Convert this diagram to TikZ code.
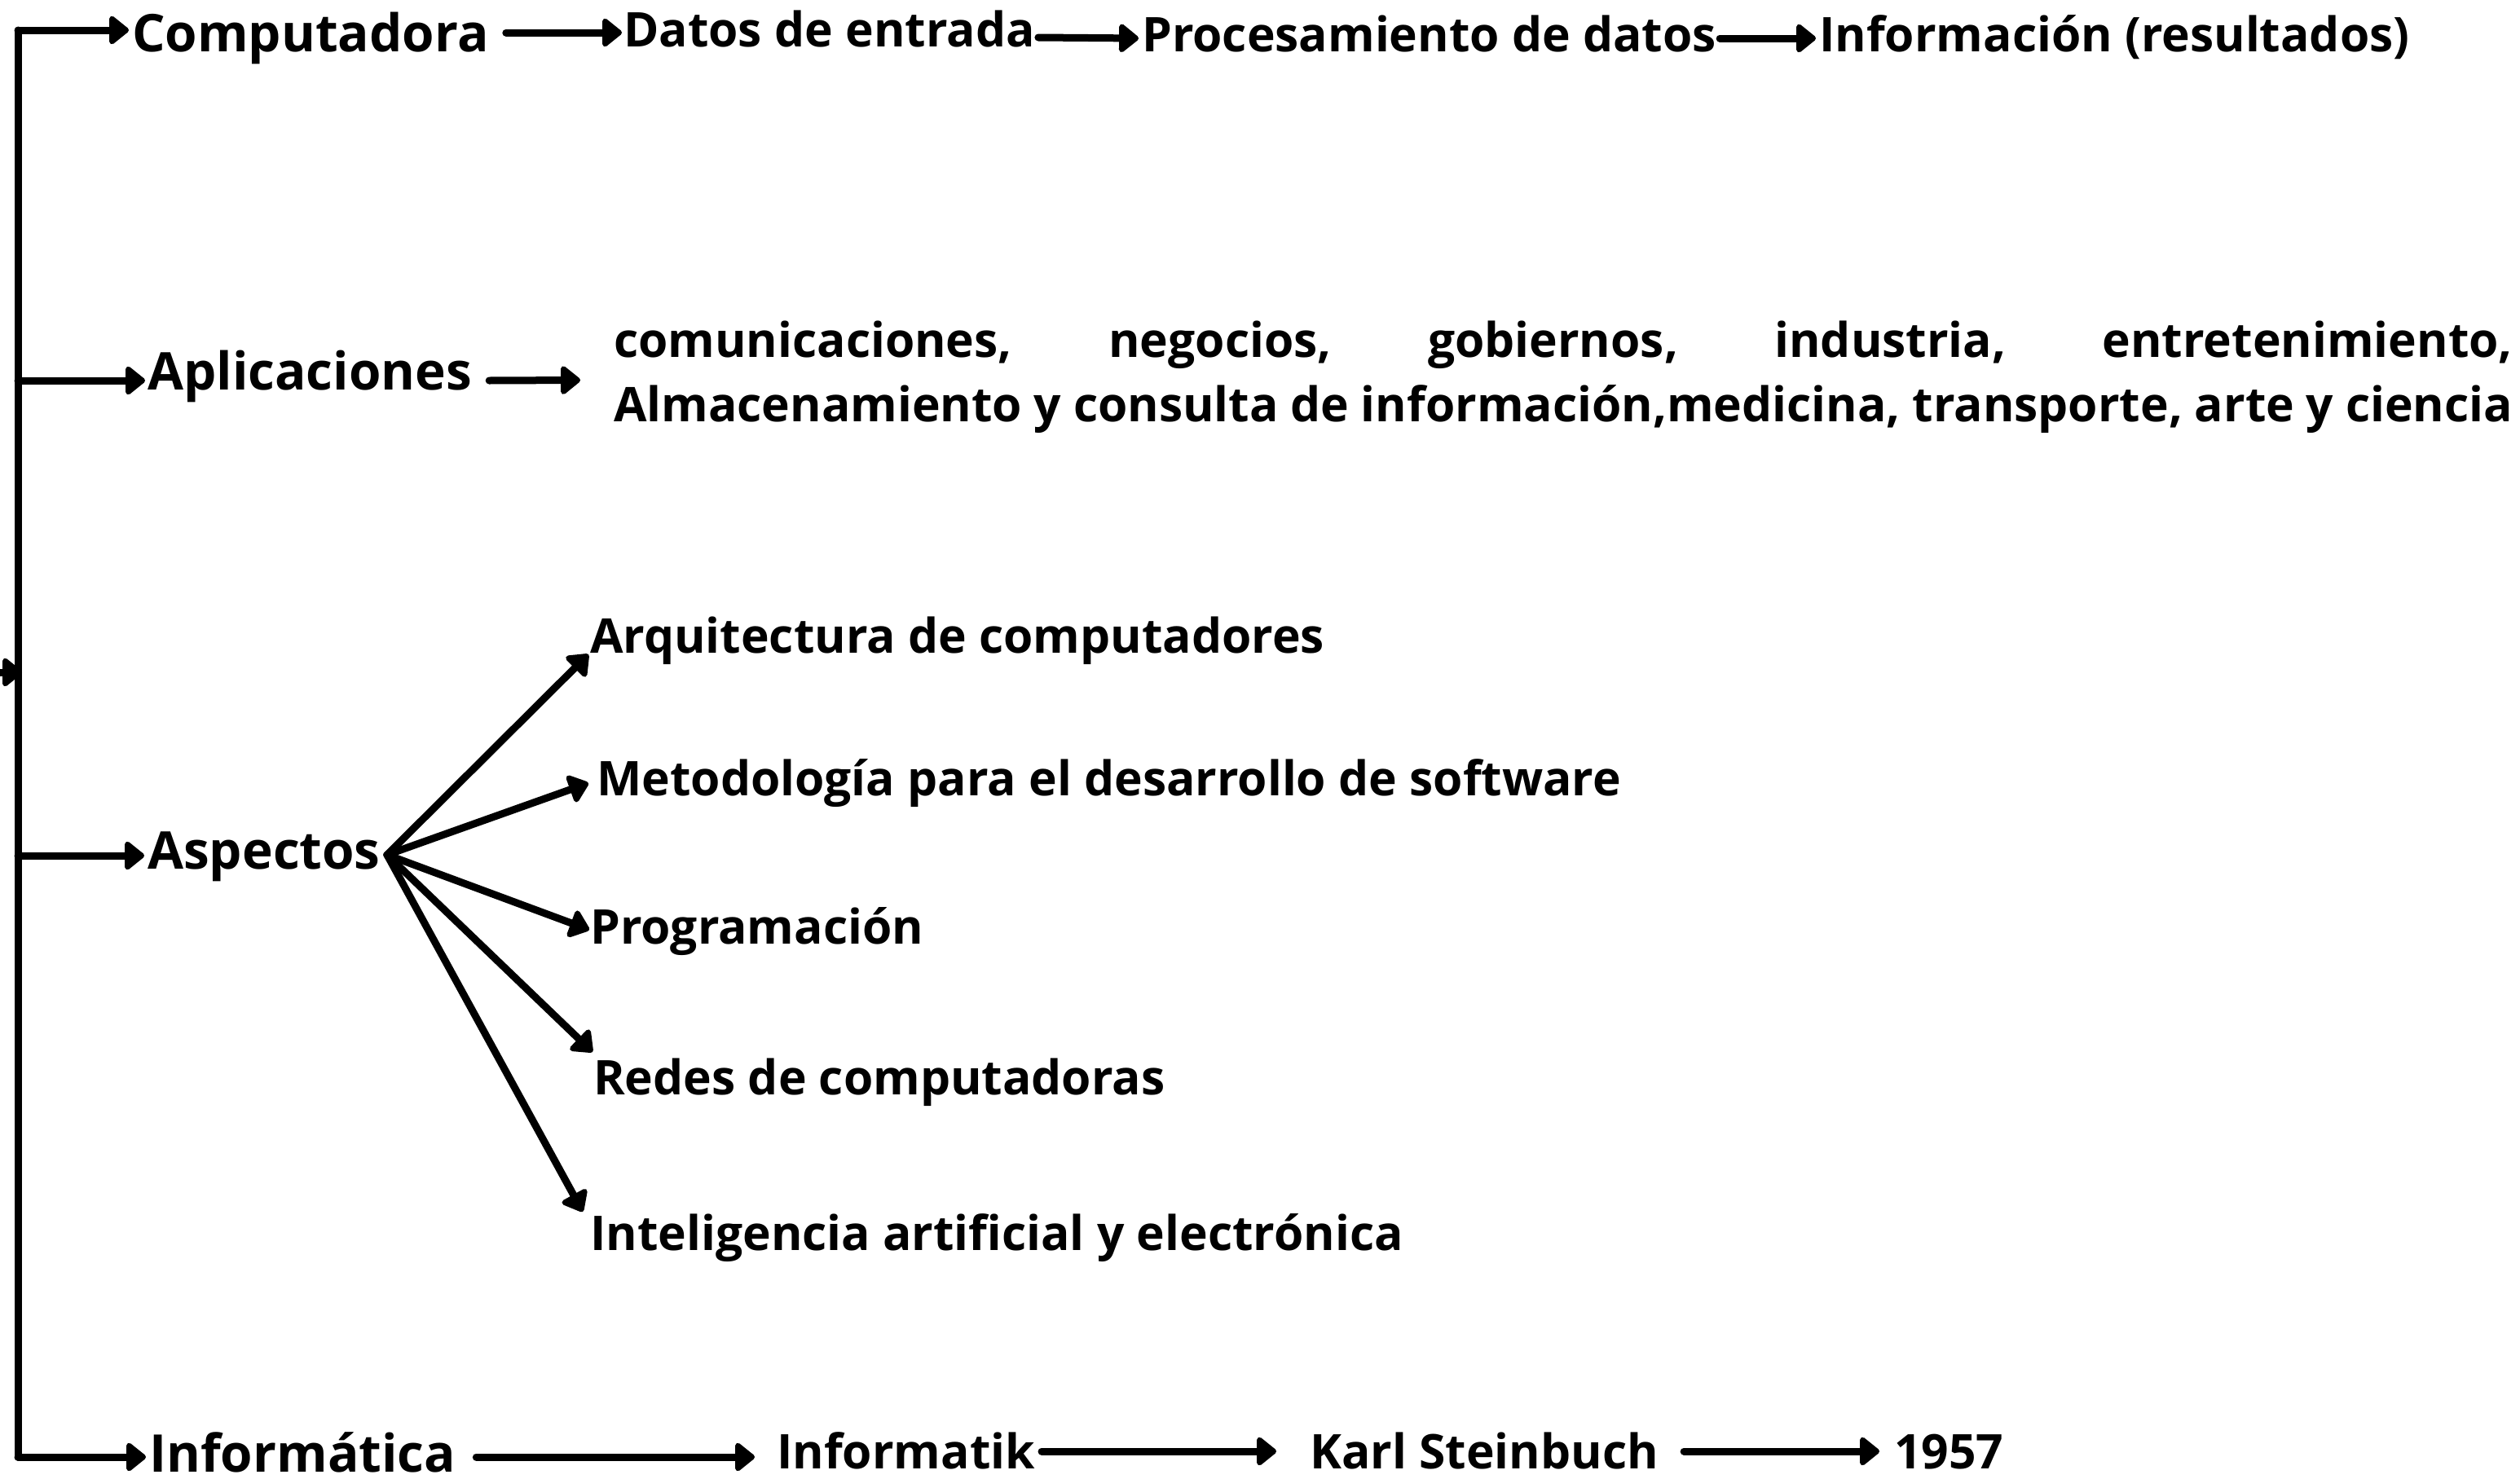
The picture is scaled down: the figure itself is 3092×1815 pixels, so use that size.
\documentclass[tikz,border=0pt]{standalone}
\usepackage{fontspec}
\setmainfont{Open Sans}
\usetikzlibrary{arrows.meta,calc}
\tikzset{
  lbl/.style={anchor=base west, inner sep=0pt, font=\bfseries\fontsize{63.8}{70}\selectfont},
  sub/.style={anchor=base west, inner sep=0pt, font=\bfseries\fontsize{58.7}{64}\selectfont},
  conn/.style={line width=9pt, line cap=round, line join=round, -{Triangle[length=26pt,width=40pt,round]}},
  trunk/.style={line width=9pt, line cap=round, line join=miter},
}
\begin{document}
\begin{tikzpicture}[x=1pt,y=-1pt]
\useasboundingbox (0,0) rectangle (3092,1815);
\clip (0,0) rectangle (3092,1815);
\fill[white] (0,0) rectangle (3092,1815);

% trunk
\coordinate (top) at (22,37);
\coordinate (bot) at (22,1788);
\coordinate (inL) at (-40,825);
\coordinate (inR) at (27,825);
\draw[trunk] (top) -- (bot);

% row 1
\node[lbl] (comp) at (162,63) {Computadora};
\node[sub] (datos) at (765,57) {Datos de entrada};
\node[sub] (proc) at (1401,63) {Procesamiento de datos};
\node[sub] (info) at (2232,63) {Información (resultados)};

% row 2
\node[lbl] (apl) at (181,478) {Aplicaciones};
\node[sub] (aplA) at (753,438) {\makebox[2330pt][s]{comunicaciones, negocios, gobiernos, industria, entretenimiento,}};
\node[sub] (aplB) at (753,517) {\makebox[2330pt][s]{Almacenamiento y consulta de información,medicina, transporte, arte y ciencia}};

% row 3
\node[lbl] (asp) at (181,1066) {Aspectos};
\node[sub] (a1) at (724,801) {Arquitectura de computadores};
\node[sub] (a2) at (732,976) {Metodología para el desarrollo de software};
\node[sub] (a3) at (724,1158) {Programación};
\node[sub] (a4) at (728,1343) {Redes de computadoras};
\node[sub] (a5) at (724,1534) {Inteligencia artificial y electrónica};
\coordinate (fan) at ($(asp.base east)+(8,-17)$);

% row 4
\node[lbl] (inf) at (183,1806) {Informática};
\node[sub] (infk) at (953,1802) {Informatik};
\node[sub] (karl) at (1607,1802) {Karl Steinbuch};
\node[sub] (y57) at (2324,1802) {1957};

% branches from trunk
\draw[conn] (top) -- ($(comp.base west)+(-4,-26)$);
\draw[conn] (top |- apl.base west) ++(0,-11) -- ($(apl.base west)+(-3,-11)$);
\draw[conn] (top |- asp.base west) ++(0,-16) -- ($(asp.base west)+(-4,-16)$);
\draw[conn] (bot) -- ($(inf.base west)+(-4,-18)$);
\draw[conn] (inL) -- (inR);

% row 1 connectors
\draw[conn] ($(comp.base east)+(21,-23)$) -- ($(datos.base west)+(-2,-17)$);
\draw[conn] ($(datos.base east)+(4,-11)$) -- ($(proc.base west)+(-4,-16)$);
\draw[conn] ($(proc.base east)+(4,-16)$) -- ($(info.base west)+(-4,-16)$);

% row 2 connector
\draw[conn] ($(apl.base east)+(21,-11)$) -- ($(aplA.base west)!.5!(aplB.base west)+(-41,-11)$);

% fan
\draw[conn] (fan) -- ($(a1.base west)+(-2,2)$);
\draw[conn] (fan) -- ($(a2.base west)+(-10,-15)$);
\draw[conn] (fan) -- ($(a3.base west)+(-1,-17)$);
\draw[conn] (fan) -- ($(a4.base west)+(-1,-52)$);
\draw[conn] (fan) -- ($(a5.base west)+(-9,-47)$);

% row 4 connectors
\draw[conn] ($(inf.base east)+(25,-18)$) -- ($(infk.base west)+(-27,-14)$);
\draw[conn] ($(infk.base east)+(8,-21)$) -- ($(karl.base west)+(-41,-21)$);
\draw[conn] ($(karl.base east)+(31,-21)$) -- ($(y57.base west)+(-18,-21)$);
\end{tikzpicture}
\end{document}
